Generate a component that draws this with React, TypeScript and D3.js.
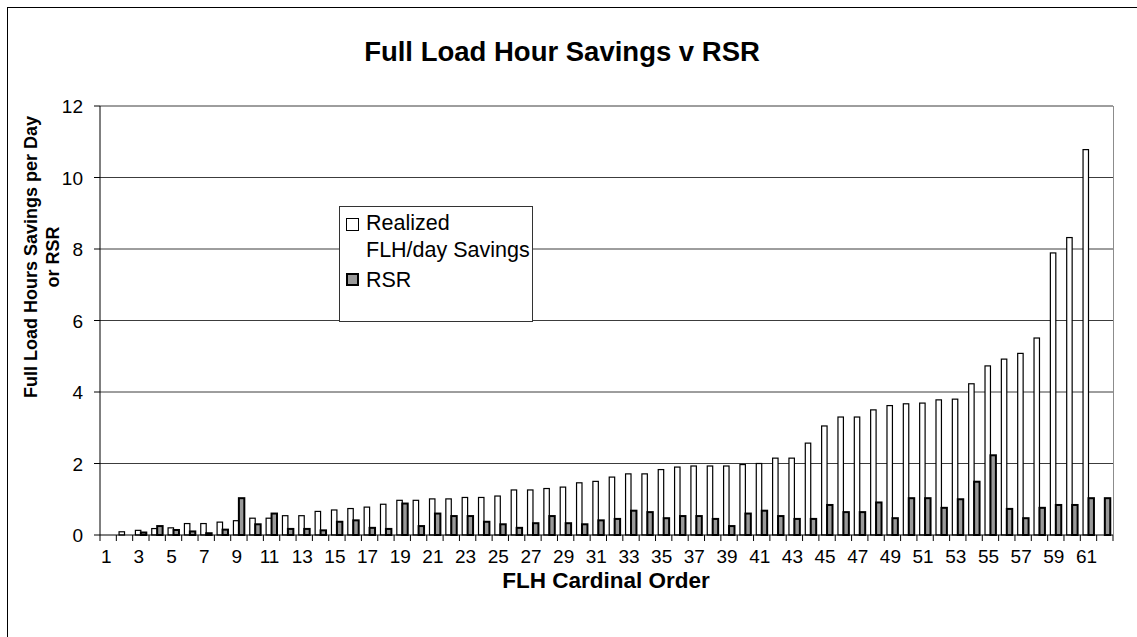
import React from 'react';
import * as d3 from 'd3';

const categories = [
  1, 2, 3, 4, 5, 6, 7, 8, 9, 10, 11, 12, 13, 14, 15, 16, 17, 18, 19, 20,
  21, 22, 23, 24, 25, 26, 27, 28, 29, 30, 31, 32, 33, 34, 35, 36, 37, 38, 39, 40,
  41, 42, 43, 44, 45, 46, 47, 48, 49, 50, 51, 52, 53, 54, 55, 56, 57, 58, 59, 60,
  61, 62,
];

const flhSavings = [
  0, 0.09, 0.13, 0.18, 0.2, 0.32, 0.32, 0.36, 0.4, 0.47,
  0.47, 0.54, 0.54, 0.66, 0.7, 0.74, 0.78, 0.86, 0.97, 0.97,
  1.01, 1.01, 1.05, 1.05, 1.09, 1.26, 1.26, 1.3, 1.34, 1.46,
  1.5, 1.62, 1.71, 1.71, 1.83, 1.9, 1.93, 1.93, 1.93, 1.97,
  2.0, 2.15, 2.15, 2.57, 3.05, 3.3, 3.3, 3.5, 3.62, 3.67,
  3.69, 3.78, 3.8, 4.23, 4.73, 4.92, 5.08, 5.51, 7.89, 8.32,
  10.78, 0,
];

const rsr = [
  0, 0, 0.07, 0.25, 0.14, 0.1, 0.05, 0.15, 1.03, 0.3,
  0.6, 0.17, 0.17, 0.13, 0.37, 0.41, 0.2, 0.17, 0.88, 0.25,
  0.6, 0.53, 0.53, 0.37, 0.3, 0.2, 0.33, 0.53, 0.33, 0.3,
  0.41, 0.45, 0.68, 0.64, 0.47, 0.53, 0.53, 0.45, 0.25, 0.6,
  0.68, 0.53, 0.45, 0.45, 0.84, 0.64, 0.64, 0.91, 0.47, 1.03,
  1.03, 0.76, 1.0, 1.49, 2.23, 0.73, 0.47, 0.76, 0.84, 0.84,
  1.03, 1.03,
];

const yTicks = [0, 2, 4, 6, 8, 10, 12];
const seriesKeys = ['flh', 'rsr'];

const W = 1137;
const H = 637;
const L = 100;
const R = 1113;
const T = 106;
const B = 535;
const FONT = "'Liberation Sans', Arial, Helvetica, sans-serif";

export default function App() {
  const x = d3
    .scaleBand<string>()
    .domain(categories.map(String))
    .range([L, R])
    .paddingInner(0)
    .paddingOuter(0);
  const bw = x.bandwidth();
  const xs = d3
    .scaleBand<string>()
    .domain(seriesKeys)
    .range([0, bw])
    .paddingInner(0)
    .paddingOuter(0.5);
  const y = d3.scaleLinear().domain([0, 12]).range([B, T]);

  const boundaries = categories.map((c) => x(String(c)) as number).concat([R]);

  return (
    <svg
      width={W}
      height={H}
      style={{ position: 'absolute', left: 0, top: 0, display: 'block', background: '#fff' }}
      fontFamily={FONT}
    >
      <rect x={0} y={0} width={W} height={H} fill="#fff" />
      <rect x={7.5} y={7.5} width={1300} height={800} fill="#fff" stroke="#000" strokeWidth={1} />

      {/* title */}
      <text x={562} y={61} textAnchor="middle" fontSize={27.5} fontWeight="bold" fill="#000">
        Full Load Hour Savings v RSR
      </text>

      {/* gridlines */}
      {yTicks.filter((t) => t > 0).map((t) => (
        <line key={'g' + t} x1={L} x2={R} y1={y(t)} y2={y(t)} stroke="#3c3c3c" strokeWidth={1} />
      ))}
      <line x1={R + 0.5} x2={R + 0.5} y1={T} y2={B} stroke="#8c8c8c" strokeWidth={1} />

      {/* bars */}
      {categories.map((c, i) => {
        const v = flhSavings[i];
        if (!(v > 0)) return null;
        const bx = (x(String(c)) as number) + (xs('flh') as number);
        return (
          <rect
            key={'f' + c}
            x={bx}
            y={y(v)}
            width={xs.bandwidth()}
            height={B - y(v)}
            fill="#fff"
            stroke="#000"
            strokeWidth={1.2}
          />
        );
      })}
      {categories.map((c, i) => {
        const v = rsr[i];
        if (!(v > 0)) return null;
        const bx = (x(String(c)) as number) + (xs('rsr') as number);
        return (
          <rect
            key={'r' + c}
            x={bx}
            y={y(v)}
            width={xs.bandwidth()}
            height={B - y(v)}
            fill="#999999"
            stroke="#000"
            strokeWidth={2}
          />
        );
      })}

      {/* axes */}
      <line x1={L} x2={L} y1={T} y2={B} stroke="#000" strokeWidth={1} />
      <line x1={L} x2={R} y1={B} y2={B} stroke="#000" strokeWidth={1} />
      {yTicks.map((t) => (
        <g key={'yt' + t}>
          <line x1={L - 6} x2={L} y1={y(t)} y2={y(t)} stroke="#000" strokeWidth={1} />
          <text x={83} y={y(t) + 7} textAnchor="end" fontSize={19} fill="#000">
            {t}
          </text>
        </g>
      ))}
      {boundaries.map((bx, i) => (
        <line key={'xt' + i} x1={bx} x2={bx} y1={B} y2={B + 6} stroke="#000" strokeWidth={1} />
      ))}
      {categories
        .filter((c) => c % 2 === 1)
        .map((c) => (
          <text
            key={'xl' + c}
            x={(x(String(c)) as number) + bw / 2 - 2}
            y={563}
            textAnchor="middle"
            fontSize={19}
            fill="#000"
          >
            {c}
          </text>
        ))}

      {/* axis titles */}
      <text x={606} y={588} textAnchor="middle" fontSize={22.5} fontWeight="bold" fill="#000">
        FLH Cardinal Order
      </text>
      <text
        transform={`translate(37,257) rotate(-90)`}
        textAnchor="middle"
        fontSize={18}
        fontWeight="bold"
        fill="#000"
      >
        <tspan x={0} y={0}>Full Load Hours Savings per Day</tspan>
        <tspan x={0} y={22}>or RSR</tspan>
      </text>

      {/* legend */}
      <rect x={339.5} y={206.5} width={193} height={115} fill="#fff" stroke="#333" strokeWidth={1} />
      <rect x={346.5} y={218.5} width={12} height={12} fill="#fff" stroke="#000" strokeWidth={1} />
      <text x={366} y={230} fontSize={21.5} fill="#000">Realized</text>
      <text x={366} y={257} fontSize={21.5} fill="#000">FLH/day Savings</text>
      <rect x={347} y={274} width={11} height={11} fill="#999999" stroke="#000" strokeWidth={2} />
      <text x={366} y={287} fontSize={21.5} fill="#000">RSR</text>
    </svg>
  );
}
